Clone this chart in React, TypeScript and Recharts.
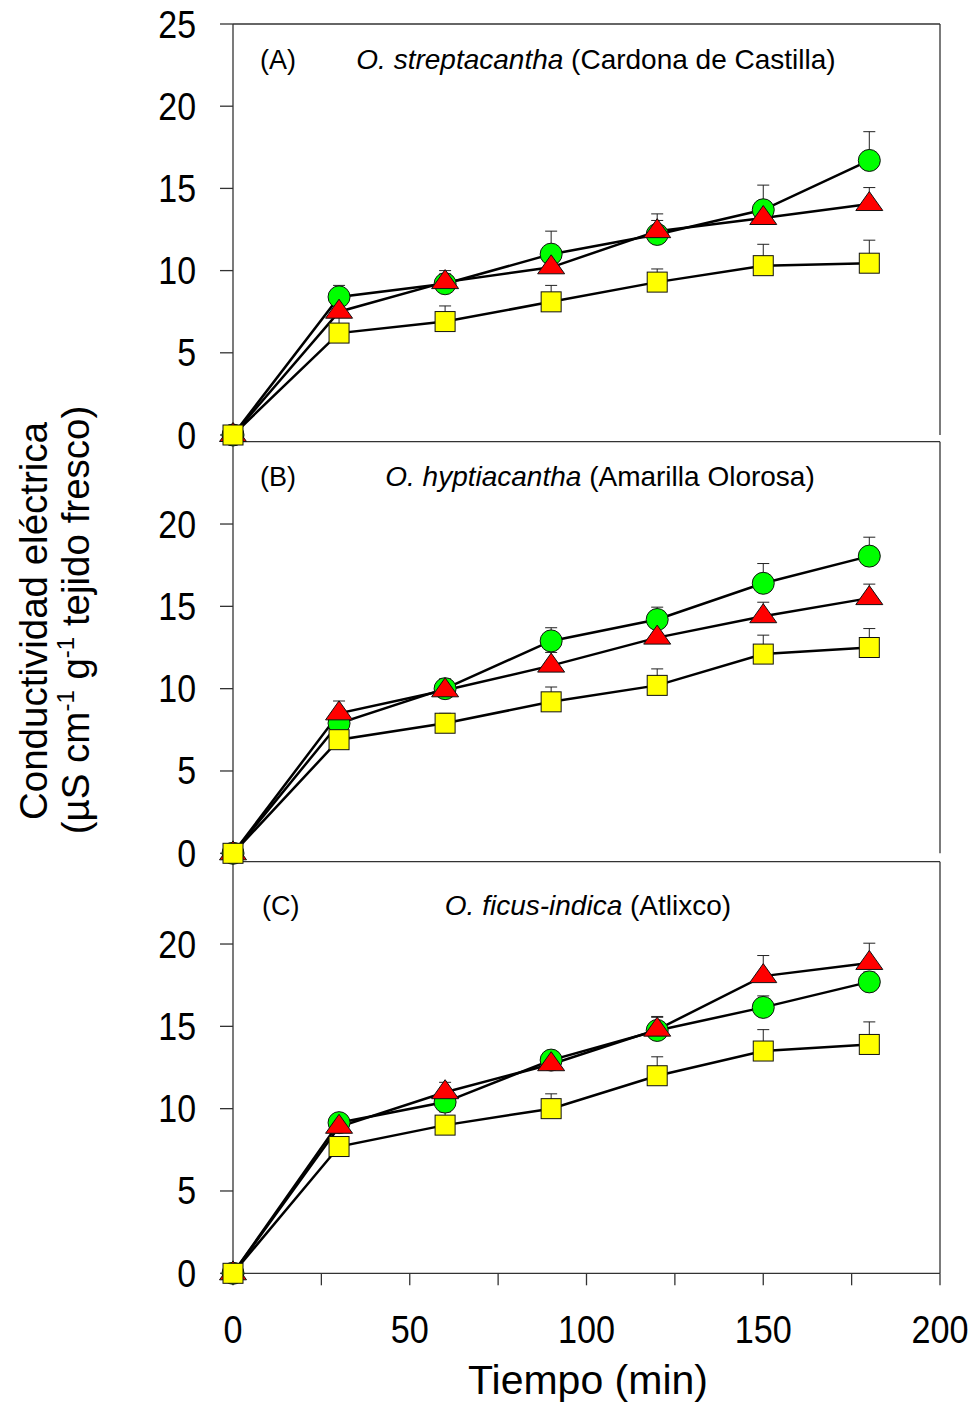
import React from 'react';
import { LineChart, Line, XAxis, YAxis, ReferenceLine, ErrorBar } from 'recharts';

const time = [0, 30, 60, 90, 120, 150, 180];

// Panel A: O. streptacantha
const greenA = [0, 8.4, 9.2, 11.0, 12.2, 13.7, 16.7];
const greenAErr = [0, 0.7, 0.8, 1.4, 1.25, 1.5, 1.75];
const redA = [0, 7.5, 9.3, 10.2, 12.4, 13.2, 14.05];
const redAErr = [0, 0.9, 0.5, 0.5, 0.65, 0.4, 1.0];
const yellowA = [0, 6.2, 6.9, 8.1, 9.3, 10.3, 10.45];
const yellowAErr = [0, 1.05, 0.95, 1.0, 0.8, 1.3, 1.4];

// Panel B: O. hyptiacantha
const greenB = [0, 7.9, 10.0, 12.9, 14.2, 16.4, 18.05];
const greenBErr = [0, 0.4, 0.6, 0.8, 0.75, 1.2, 1.15];
const redB = [0, 8.5, 9.9, 11.4, 13.1, 14.4, 15.5];
const redBErr = [0, 0.75, 0.5, 0.8, 0.7, 0.85, 0.85];
const yellowB = [0, 6.9, 7.9, 9.2, 10.2, 12.1, 12.5];
const yellowBErr = [0, 0.5, 0.6, 0.9, 1.0, 1.15, 1.15];

// Panel C: O. ficus-indica
const greenC = [0, 9.15, 10.4, 12.95, 14.75, 16.15, 17.7];
const greenCErr = [0, 0.3, 0.5, 0.5, 0.8, 0.7, 0.6];
const redC = [0, 8.9, 11.0, 12.7, 14.8, 18.05, 18.85];
const redCErr = [0, 0.4, 0.6, 0.7, 0.8, 1.25, 1.2];
const yellowC = [0, 7.7, 9.0, 10.0, 12.0, 13.5, 13.9];
const yellowCErr = [0, 0.5, 0.8, 0.9, 1.15, 1.3, 1.37];

const panelLetters = ['(A)', '(B)', '(C)'];
const speciesNames = ['O. streptacantha', 'O. hyptiacantha', 'O. ficus-indica'];
const cultivarNames = ['(Cardona de Castilla)', '(Amarilla Olorosa)', '(Atlixco)'];

const yTicksTop = [0, 5, 10, 15, 20, 25];
const yTicks = [0, 5, 10, 15, 20];
const xTicks = [0, 25, 50, 75, 100, 125, 150, 175, 200];
const xTickLabels = [0, 50, 100, 150, 200];

const yTitle1 = 'Conductividad eléctrica';
const xTitle = 'Tiempo (min)';

const FONT = '"Liberation Sans", Arial, sans-serif';
const AXIS = '#333';
const W = 975;
const H = 1408;

function buildRows(g: number[], gE: number[], r: number[], rE: number[], y: number[], yE: number[]) {
  return time.map((t, i) => ({
    t,
    g: g[i],
    gE: [0, gE[i]],
    r: r[i],
    rE: [0, rE[i]],
    y: y[i],
    yE: [0, yE[i]],
  }));
}

const rowsA = buildRows(greenA, greenAErr, redA, redAErr, yellowA, yellowAErr);
const rowsB = buildRows(greenB, greenBErr, redB, redBErr, yellowB, yellowBErr);
const rowsC = buildRows(greenC, greenCErr, redC, redCErr, yellowC, yellowCErr);

const CircleDot = (p: any) => (
  <circle key={`c-${p.index}`} cx={p.cx} cy={p.cy} r={11} fill="#00FF00" stroke="#111" strokeWidth={1} />
);
const TriDot = (p: any) => (
  <path
    key={`t-${p.index}`}
    d={`M${p.cx},${p.cy - 12.5} L${p.cx + 13.5},${p.cy + 6.5} L${p.cx - 13.5},${p.cy + 6.5} Z`}
    fill="#FF0000"
    stroke="#111"
    strokeWidth={1}
  />
);
const SquareDot = (p: any) => (
  <rect key={`s-${p.index}`} x={p.cx - 10} y={p.cy - 10} width={20} height={20} fill="#FFFF00" stroke="#111" strokeWidth={1} />
);

const YTick = (p: any) => (
  <g transform={`translate(${p.x - 24},${p.y + 13.5})`}>
    <text x={0} y={0} textAnchor="end" transform="scale(0.87,1)" fontSize={39} fill="#000" fontFamily={FONT}>
      {p.payload.value}
    </text>
  </g>
);

const XTick = (p: any) => {
  if (!xTickLabels.includes(p.payload.value)) return <g />;
  return (
    <g transform={`translate(${p.x},${p.y + 58})`}>
      <text x={0} y={0} textAnchor="middle" transform="scale(0.9,1)" fontSize={38} fill="#000" fontFamily={FONT}>
        {p.payload.value}
      </text>
    </g>
  );
};

type PanelProps = {
  rows: any[];
  topPx: number;
  bottomPx: number;
  ticks: number[];
  showX: boolean;
  gap: number;
  z: number;
};

function Panel({ rows, topPx, bottomPx, ticks, showX, gap, z }: PanelProps) {
  const xH = 60;
  const margin = {
    top: topPx,
    right: W - 940,
    left: 233 - 80,
    bottom: showX ? H - bottomPx - xH : H - bottomPx,
  };
  return (
    <div style={{ position: 'absolute', left: 0, top: 0, width: W, height: H, zIndex: z }}>
      <LineChart width={W} height={H} data={rows} margin={margin}>
        <XAxis
          dataKey="t"
          type="number"
          domain={[0, 200]}
          ticks={xTicks}
          hide={!showX}
          height={xH}
          tickSize={12}
          tickMargin={0}
          tick={<XTick />}
          axisLine={{ stroke: AXIS, strokeWidth: 1.3 }}
          tickLine={{ stroke: AXIS, strokeWidth: 1.3 }}
          interval={0}
        />
        <YAxis
          type="number"
          domain={[0, 25]}
          ticks={ticks}
          width={80}
          tickSize={13}
          tickMargin={0}
          tick={<YTick />}
          axisLine={{ stroke: AXIS, strokeWidth: 1.3 }}
          tickLine={{ stroke: AXIS, strokeWidth: 1.3 }}
          interval={0}
        />
        <ReferenceLine y={25} stroke={AXIS} strokeWidth={1.3} />
        <ReferenceLine x={200} stroke={AXIS} strokeWidth={1.3} />
        {gap > 0 ? (
          <ReferenceLine
            segment={[{ x: 0, y: 0 }, { x: 0, y: -gap }]}
            stroke={AXIS}
            strokeWidth={1.3}
            ifOverflow="visible"
          />
        ) : null}
        <Line
          dataKey="g"
          stroke="#000"
          strokeWidth={2.5}
          dot={CircleDot}
          activeDot={false}
          isAnimationActive={false}
          legendType="none"
        >
          <ErrorBar dataKey="gE" direction="y" width={6} stroke="#222" strokeWidth={1} isAnimationActive={false} />
        </Line>
        <Line
          dataKey="r"
          stroke="#000"
          strokeWidth={2.5}
          dot={TriDot}
          activeDot={false}
          isAnimationActive={false}
          legendType="none"
        >
          <ErrorBar dataKey="rE" direction="y" width={6} stroke="#222" strokeWidth={1} isAnimationActive={false} />
        </Line>
        <Line
          dataKey="y"
          stroke="#000"
          strokeWidth={2.5}
          dot={SquareDot}
          activeDot={false}
          isAnimationActive={false}
          legendType="none"
        >
          <ErrorBar dataKey="yE" direction="y" width={6} stroke="#222" strokeWidth={1} isAnimationActive={false} />
        </Line>
      </LineChart>
    </div>
  );
}

const titleSpecs = [
  { lx: 260, cx: 596, base: 69 },
  { lx: 260, cx: 600, base: 486 },
  { lx: 262, cx: 588, base: 915 },
];

function Overlay() {
  return (
    <svg
      width={W}
      height={H}
      style={{ position: 'absolute', left: 0, top: 0, zIndex: 10, pointerEvents: 'none' }}
      fontFamily={FONT}
    >
      {titleSpecs.map((s, i) => (
        <g key={i}>
          <text x={s.lx} y={s.base} fontSize={27} fill="#000">
            {panelLetters[i]}
          </text>
          <text x={s.cx} y={s.base} textAnchor="middle" fontSize={28} fill="#000">
            <tspan fontStyle="italic">{speciesNames[i]}</tspan>
            <tspan> {cultivarNames[i]}</tspan>
          </text>
        </g>
      ))}
      <text x={588} y={1394} textAnchor="middle" fontSize={41} fill="#000">
        {xTitle}
      </text>
      <g transform="translate(47,621) rotate(-90)">
        <text x={0} y={0} textAnchor="middle" fontSize={38.5} fill="#000">
          {yTitle1}
        </text>
      </g>
      <g transform="translate(89,620) rotate(-90)">
        <text x={0} y={0} textAnchor="middle" fontSize={38.5} fill="#000">
          <tspan>(µS cm</tspan>
          <tspan fontSize={24} dy={-15}>-1</tspan>
          <tspan dy={15}> g</tspan>
          <tspan fontSize={24} dy={-15}>-1</tspan>
          <tspan dy={15}> tejido fresco)</tspan>
        </text>
      </g>
    </svg>
  );
}

export default function App() {
  return (
    <div style={{ position: 'absolute', left: 0, top: 0, width: W, height: H, background: '#fff', fontFamily: FONT }}>
      <Panel rows={rowsC} topPx={861.7} bottomPx={1273.3} ticks={yTicks} showX={true} gap={0} z={1} />
      <Panel rows={rowsB} topPx={441.7} bottomPx={853.3} ticks={yTicks} showX={false} gap={0.51} z={2} />
      <Panel rows={rowsA} topPx={24} bottomPx={435} ticks={yTicksTop} showX={false} gap={0.41} z={3} />
      <Overlay />
    </div>
  );
}
